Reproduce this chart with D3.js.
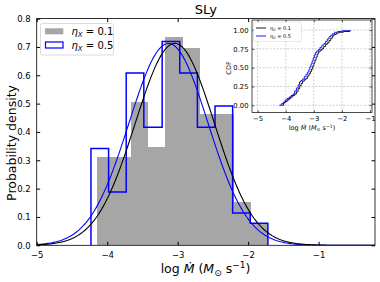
<!DOCTYPE html>
<html>
<head>
<meta charset="utf-8">
<script src="https://cdn.jsdelivr.net/npm/d3@7"></script>
<style>
  body { margin: 0; background: #fff; }
  text { font-family: "DejaVu Sans", sans-serif; fill: #000; }
</style>
</head>
<body>
<div id="chart"></div>
<script>
// histogram of log Mdot for the SLy EOS, two eta_X values
var grayEdges = [-4.15, -3.91, -3.66, -3.42, -3.18, -2.93, -2.69, -2.44, -2.20, -1.96, -1.72];
var grayDensity = [0.31, 0.31, 0.505, 0.348, 0.735, 0.696, 0.465, 0.465, 0.152, 0.077];
var blueEdges = [-4.23, -3.98, -3.73, -3.48, -3.22, -2.97, -2.72, -2.47, -2.22, -1.97, -1.72];
var blueDensity = [0.342, 0.188, 0.608, 0.417, 0.719, 0.608, 0.417, 0.492, 0.114, 0.078];

// gaussian fits (mean, sigma)
var fitMeans = [-3.04, -3.13];
var fitSigmas = [0.56, 0.56];

var cdfX01 = [-4.15, -4.08, -4.02, -3.95, -3.88, -3.82, -3.75, -3.68, -3.62, -3.56, -3.50, -3.45, -3.40, -3.34, -3.28, -3.22, -3.17, -3.12, -3.08, -3.04, -3.00, -2.96, -2.92, -2.88, -2.84, -2.78, -2.72, -2.65, -2.58, -2.52, -2.46, -2.40, -2.34, -2.28, -2.20, -2.10, -1.95, -1.72];
var cdfY01 = [0, 0.03, 0.05, 0.07, 0.09, 0.11, 0.13, 0.15, 0.18, 0.22, 0.26, 0.29, 0.32, 0.34, 0.36, 0.39, 0.42, 0.45, 0.48, 0.52, 0.56, 0.60, 0.64, 0.68, 0.71, 0.73, 0.75, 0.78, 0.81, 0.83, 0.86, 0.89, 0.92, 0.94, 0.96, 0.97, 0.98, 1.0];
var cdfX05 = [-4.23, -4.16, -4.09, -4.02, -3.95, -3.88, -3.81, -3.74, -3.68, -3.62, -3.56, -3.51, -3.46, -3.40, -3.34, -3.28, -3.23, -3.18, -3.14, -3.10, -3.06, -3.02, -2.98, -2.94, -2.90, -2.84, -2.78, -2.71, -2.64, -2.58, -2.52, -2.46, -2.40, -2.34, -2.26, -2.15, -2.00, -1.72];
var cdfY05 = [0, 0.02, 0.04, 0.07, 0.09, 0.11, 0.13, 0.15, 0.19, 0.23, 0.27, 0.31, 0.33, 0.35, 0.38, 0.41, 0.44, 0.47, 0.51, 0.55, 0.59, 0.63, 0.67, 0.70, 0.72, 0.74, 0.77, 0.80, 0.82, 0.85, 0.88, 0.91, 0.93, 0.95, 0.97, 0.98, 0.99, 1.0];

var xTicks = [-5, -4, -3, -2, -1];
var yTicks = [0, 0.1, 0.2, 0.3, 0.4, 0.5, 0.6, 0.7, 0.8];
var cdfTicks = [0, 0.25, 0.5, 0.75, 1.0];
var legendLabels = ["0.1", "0.5"];

var width = 380, height = 282;
var grayColor = "#a6a6a6", blue = "#0000ff";

var svg = d3.select("#chart").append("svg")
    .attr("width", width).attr("height", height);

var x = d3.scaleLinear().domain([-5, -0.2]).range([36.7, 375]);
var y = d3.scaleLinear().domain([0, 0.8]).range([245.3, 18.6]);

svg.append("defs").append("clipPath").attr("id", "clipMain")
  .append("rect").attr("x", x.range()[0]).attr("y", y.range()[1])
  .attr("width", x.range()[1] - x.range()[0]).attr("height", y.range()[0] - y.range()[1]);

var plot = svg.append("g").attr("clip-path", "url(#clipMain)");

// gray bars
plot.selectAll(".bar").data(grayDensity).enter().append("rect")
  .attr("x", function(d, i) { return x(grayEdges[i]); })
  .attr("width", function(d, i) { return x(grayEdges[i + 1]) - x(grayEdges[i]); })
  .attr("y", function(d) { return y(d); })
  .attr("height", function(d) { return y(0) - y(d); })
  .attr("fill", grayColor)
  .attr("shape-rendering", "crispEdges");

// blue step outline
var stepPts = [[blueEdges[0], 0]];
blueDensity.forEach(function(d, i) {
  stepPts.push([blueEdges[i], d]);
  stepPts.push([blueEdges[i + 1], d]);
});
stepPts.push([blueEdges[blueEdges.length - 1], 0]);
plot.append("path")
  .attr("d", d3.line().x(function(d) { return x(d[0]); }).y(function(d) { return y(d[1]); })(stepPts))
  .attr("fill", "none").attr("stroke", blue).attr("stroke-width", 1.5);

// fitted normal curves
function pdf(v, m, s) {
  return Math.exp(-0.5 * Math.pow((v - m) / s, 2)) / (s * Math.sqrt(2 * Math.PI));
}
var xs = d3.range(-5, -0.19, 0.02);
var fitColors = ["#000", blue];
[1, 0].forEach(function(k) {
  plot.append("path")
    .attr("d", d3.line()
      .x(function(v) { return x(v); })
      .y(function(v) { return y(pdf(v, fitMeans[k], fitSigmas[k])); })(xs))
    .attr("fill", "none").attr("stroke", fitColors[k]).attr("stroke-width", 1.1);
});

// frame
svg.append("rect")
  .attr("x", x.range()[0]).attr("y", y.range()[1])
  .attr("width", x.range()[1] - x.range()[0]).attr("height", y.range()[0] - y.range()[1])
  .attr("fill", "none").attr("stroke", "#000").attr("stroke-width", 0.8);

// axes with inward ticks
var tickFont = "8.5px";
svg.append("g").attr("transform", "translate(0," + y(0) + ")")
  .call(d3.axisBottom(x).tickValues(xTicks).tickSize(-3.5).tickPadding(6.5)
    .tickFormat(function(d) { return "\u2212" + Math.abs(d); }))
  .call(function(g) { g.select(".domain").remove(); g.selectAll("text").style("font-size", tickFont).style("font-family", "DejaVu Sans"); });
svg.append("g").attr("transform", "translate(0," + y(0.8) + ")")
  .call(d3.axisTop(x).tickValues(xTicks).tickSize(-3.5).tickFormat(""))
  .call(function(g) { g.select(".domain").remove(); });
svg.append("g").attr("transform", "translate(" + x(-5) + ",0)")
  .call(d3.axisLeft(y).tickValues(yTicks).tickSize(-3.5).tickPadding(6)
    .tickFormat(d3.format(".1f")))
  .call(function(g) { g.select(".domain").remove(); g.selectAll("text").style("font-size", tickFont).style("font-family", "DejaVu Sans"); });
svg.append("g").attr("transform", "translate(" + x.range()[1] + ",0)")
  .call(d3.axisRight(y).tickValues(yTicks).tickSize(-3.5).tickFormat(""))
  .call(function(g) { g.select(".domain").remove(); });

// title and labels
svg.append("text").attr("x", (x.range()[0] + x.range()[1]) / 2).attr("y", 14)
  .attr("text-anchor", "middle").style("font-size", "13px").text("SLy");

var xl = svg.append("text").attr("x", 205.5).attr("y", 273)
  .attr("text-anchor", "middle").style("font-size", "12.5px");
xl.append("tspan").text("log ");
xl.append("tspan").style("font-style", "italic").text("M\u0307");
xl.append("tspan").text(" (");
xl.append("tspan").style("font-style", "italic").text("M");
xl.append("tspan").attr("dy", 2.5).style("font-size", "9px").text("\u2299");
xl.append("tspan").attr("dy", -2.5).text(" s");
xl.append("tspan").attr("dy", -5).style("font-size", "9px").text("\u22121");
xl.append("tspan").attr("dy", 5).text(")");

svg.append("text").attr("transform", "translate(16,143) rotate(-90)")
  .attr("text-anchor", "middle").style("font-size", "12.5px").text("Probability density");

// legend
var lg = svg.append("g");
lg.append("rect").attr("x", 40.5).attr("y", 23.5).attr("width", 73).attr("height", 31.5)
  .attr("rx", 2).attr("fill", "#fff").attr("fill-opacity", 0.8).attr("stroke", "#d0d0d0").attr("stroke-width", 0.8);
lg.append("rect").attr("x", 45).attr("y", 28.3).attr("width", 18.3).attr("height", 6).attr("fill", grayColor);
lg.append("rect").attr("x", 45.5).attr("y", 42).attr("width", 17.5).attr("height", 6)
  .attr("fill", "none").attr("stroke", blue).attr("stroke-width", 1.2);
legendLabels.forEach(function(lab, i) {
  var t = lg.append("text").attr("x", 71.5).attr("y", 35 + i * 13.5).style("font-size", "10px");
  t.append("tspan").style("font-style", "italic").text("\u03B7");
  t.append("tspan").attr("dy", 2).style("font-size", "7px").style("font-style", "italic").text("X");
  t.append("tspan").attr("dy", -2).text(" = " + lab);
});

// ---- inset CDF ----
var xi = d3.scaleLinear().domain([-5.2, -0.93]).range([252, 372]);
var yi = d3.scaleLinear().domain([-0.096, 1.133]).range([112.5, 20]);
var inset = svg.append("g");
inset.append("rect").attr("x", 252).attr("y", 20).attr("width", 120).attr("height", 92.5).attr("fill", "#fff");

inset.selectAll(".gx").data(xTicks).enter().append("line")
  .attr("x1", function(d) { return xi(d); }).attr("x2", function(d) { return xi(d); })
  .attr("y1", yi.range()[1]).attr("y2", yi.range()[0])
  .attr("stroke", "#b0b0b0").attr("stroke-width", 0.6).attr("stroke-dasharray", "2,1.5");
inset.selectAll(".gy").data(cdfTicks).enter().append("line")
  .attr("y1", function(d) { return yi(d); }).attr("y2", function(d) { return yi(d); })
  .attr("x1", xi.range()[0]).attr("x2", xi.range()[1])
  .attr("stroke", "#b0b0b0").attr("stroke-width", 0.6).attr("stroke-dasharray", "2,1.5");

var cdfLine = d3.line().curve(d3.curveStepAfter)
  .x(function(d) { return xi(d[0]); }).y(function(d) { return yi(d[1]); });
inset.append("path").attr("d", cdfLine(d3.zip(cdfX01, cdfY01)))
  .attr("fill", "none").attr("stroke", "#000").attr("stroke-width", 0.9);
inset.append("path").attr("d", cdfLine(d3.zip(cdfX05, cdfY05)))
  .attr("fill", "none").attr("stroke", blue).attr("stroke-width", 0.9);

inset.append("rect").attr("x", 252).attr("y", 20).attr("width", 120).attr("height", 92.5)
  .attr("fill", "none").attr("stroke", "#000").attr("stroke-width", 0.7);

var smallFont = "6.8px";
inset.append("g").attr("transform", "translate(0," + yi.range()[0] + ")")
  .call(d3.axisBottom(xi).tickValues(xTicks).tickSize(-2.5).tickPadding(4)
    .tickFormat(function(d) { return "\u2212" + Math.abs(d); }))
  .call(function(g) { g.select(".domain").remove(); g.selectAll("line").attr("stroke-width", 0.6); g.selectAll("text").style("font-size", smallFont).style("font-family", "DejaVu Sans"); });
inset.append("g").attr("transform", "translate(0," + yi.range()[1] + ")")
  .call(d3.axisTop(xi).tickValues(xTicks).tickSize(-2.5).tickFormat(""))
  .call(function(g) { g.select(".domain").remove(); g.selectAll("line").attr("stroke-width", 0.6); });
inset.append("g").attr("transform", "translate(" + xi.range()[0] + ",0)")
  .call(d3.axisLeft(yi).tickValues(cdfTicks).tickSize(-2.5).tickPadding(3.5).tickFormat(d3.format(".2f")))
  .call(function(g) { g.select(".domain").remove(); g.selectAll("line").attr("stroke-width", 0.6); g.selectAll("text").style("font-size", smallFont).style("font-family", "DejaVu Sans"); });
inset.append("g").attr("transform", "translate(" + xi.range()[1] + ",0)")
  .call(d3.axisRight(yi).tickValues(cdfTicks).tickSize(-2.5).tickFormat(""))
  .call(function(g) { g.select(".domain").remove(); g.selectAll("line").attr("stroke-width", 0.6); });

var il = inset.append("text").attr("x", 312).attr("y", 130)
  .attr("text-anchor", "middle").style("font-size", "6.5px");
il.append("tspan").text("log ");
il.append("tspan").style("font-style", "italic").text("M\u0307");
il.append("tspan").text(" (");
il.append("tspan").style("font-style", "italic").text("M");
il.append("tspan").attr("dy", 1.3).style("font-size", "4.6px").text("\u2299");
il.append("tspan").attr("dy", -1.3).text(" s");
il.append("tspan").attr("dy", -2.5).style("font-size", "4.6px").text("\u22121");
il.append("tspan").attr("dy", 2.5).text(")");

inset.append("text").attr("transform", "translate(231,68) rotate(-90)")
  .attr("text-anchor", "middle").style("font-size", "6.5px").text("CDF");

// inset legend
var il2 = inset.append("g");
il2.append("rect").attr("x", 253.5).attr("y", 22).attr("width", 48).attr("height", 19.5)
  .attr("rx", 1).attr("fill", "#fff").attr("stroke", "#d0d0d0").attr("stroke-width", 0.5);
["#000", blue].forEach(function(c, i) {
  il2.append("line").attr("x1", 256).attr("x2", 266).attr("y1", 28 + i * 8).attr("y2", 28 + i * 8)
    .attr("stroke", c).attr("stroke-width", 0.9);
  var t = il2.append("text").attr("x", 270).attr("y", 30 + i * 8).style("font-size", "5px");
  t.append("tspan").style("font-style", "italic").text("\u03B7");
  t.append("tspan").attr("dy", 1).style("font-size", "3.5px").style("font-style", "italic").text("X");
  t.append("tspan").attr("dy", -1).text(" = " + legendLabels[i]);
});
</script>
</body>
</html>
